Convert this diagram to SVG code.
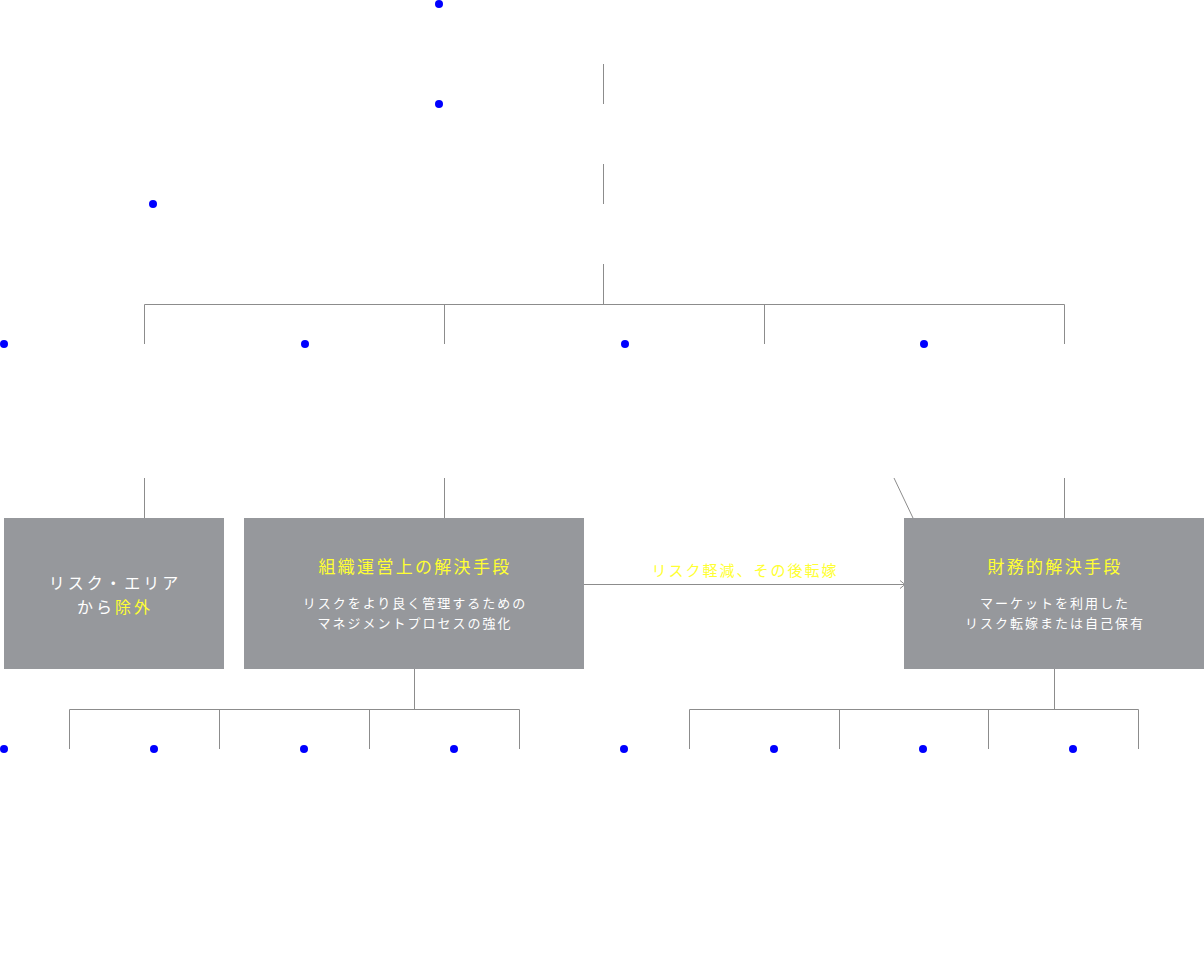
<svg xmlns="http://www.w3.org/2000/svg" width="1204" height="966" viewBox="0 0 1204 966">
<style>
.ln{stroke:#8c8c8c;stroke-width:1;fill:none}
.dot{fill:#0000ff}
.box{fill:#96989c}
.t{font-family:"Noto Sans CJK JP","Noto Sans",sans-serif;text-anchor:middle}
.w{fill:#ffffff}
.y{fill:#ffff33}
.big{font-size:16px;letter-spacing:3px}
.ttl{font-size:17px;letter-spacing:2.3px}
.sub{font-size:13px;letter-spacing:2px}
.lbl{font-size:15px;letter-spacing:2px}
</style>
<defs>
<marker id="arr" markerWidth="10" markerHeight="10" refX="8" refY="5" orient="auto" markerUnits="userSpaceOnUse">
<path d="M3,1 L8,5 L3,9" class="ln"/>
</marker>
</defs>
<rect width="1204" height="966" fill="#ffffff"/>
<g id="dots">
<circle class="dot" cx="439" cy="4" r="4"/>
<circle class="dot" cx="439" cy="104" r="4"/>
<circle class="dot" cx="153" cy="204" r="4"/>
<circle class="dot" cx="4" cy="344" r="4"/>
<circle class="dot" cx="305" cy="344" r="4"/>
<circle class="dot" cx="625" cy="344" r="4"/>
<circle class="dot" cx="924" cy="344" r="4"/>
<circle class="dot" cx="4" cy="749" r="4"/>
<circle class="dot" cx="154" cy="749" r="4"/>
<circle class="dot" cx="304" cy="749" r="4"/>
<circle class="dot" cx="454" cy="749" r="4"/>
<circle class="dot" cx="624" cy="749" r="4"/>
<circle class="dot" cx="774" cy="749" r="4"/>
<circle class="dot" cx="923" cy="749" r="4"/>
<circle class="dot" cx="1073" cy="749" r="4"/>
</g>
<g id="connectors">
<path class="ln" d="M603.5,64V104M603.5,164V204M603.5,264V304"/>
<path class="ln" d="M144.5,344V304.5H1064.5V344M444.5,304V344M764.5,304V344"/>
<path class="ln" d="M144.5,478V518M444.5,478V518M1064.5,478V518M894,478L913,518"/>
<path class="ln" d="M414.5,669V709M69.5,749V709.5H519.5V749M219.5,709V749M369.5,709V749"/>
<path class="ln" d="M1054.5,669V709M689.5,749V709.5H1138.5V749M839.5,709V749M988.5,709V749"/>
<path class="ln" d="M584,584.5H905" marker-end="url(#arr)"/>
<text class="t y lbl" x="745" y="576">リスク軽減、その後転嫁</text>
</g>
<g id="node-exclude">
<rect class="box" x="4" y="518" width="220" height="151"/>
<text class="t w big" x="115" y="589">リスク・エリア</text>
<text class="t w big" x="115" y="613">から<tspan class="y">除外</tspan></text>
</g>
<g id="node-organization">
<rect class="box" x="244" y="518" width="340" height="151"/>
<text class="t y ttl" x="415" y="573">組織運営上の解決手段</text>
<text class="t w sub" x="415" y="608">リスクをより良く管理するための</text>
<text class="t w sub" x="415" y="628">マネジメントプロセスの強化</text>
</g>
<g id="node-finance">
<rect class="box" x="904" y="518" width="300" height="151"/>
<text class="t y ttl" x="1055" y="573">財務的解決手段</text>
<text class="t w sub" x="1055" y="608">マーケットを利用した</text>
<text class="t w sub" x="1055" y="628">リスク転嫁または自己保有</text>
</g>
</svg>
